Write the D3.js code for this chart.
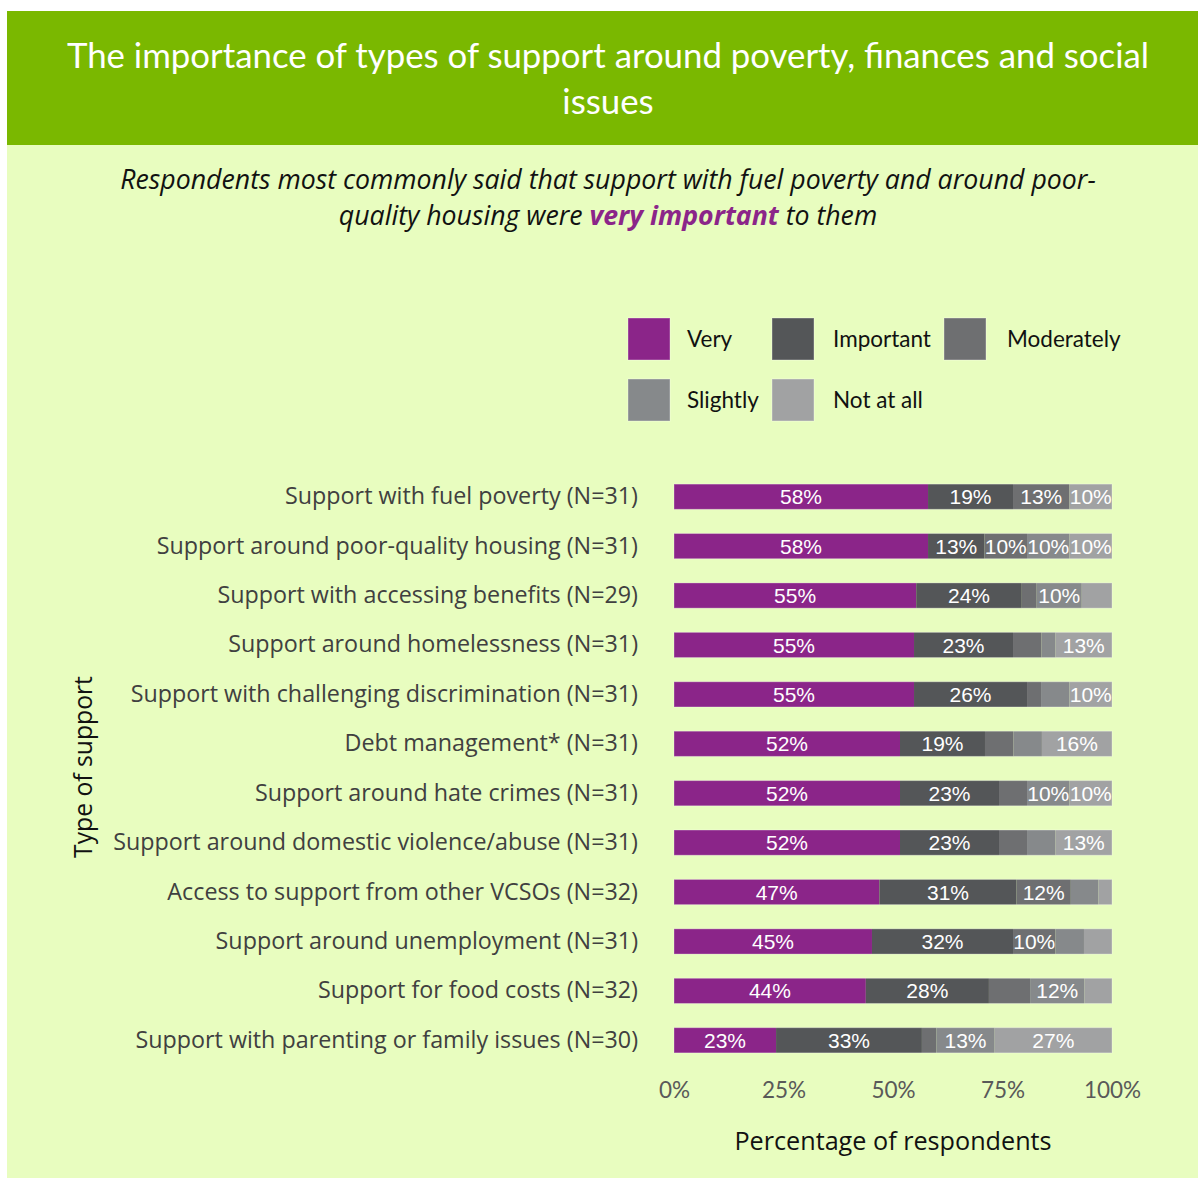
<!DOCTYPE html>
<html>
<head>
<meta charset="utf-8">
<script src="https://cdn.jsdelivr.net/npm/d3@7"></script>
<style>
  html, body { margin: 0; padding: 0; background: #ffffff; }
  svg { display: block; }
</style>
</head>
<body>
<svg id="chart" width="1198" height="1178"></svg>
<script>
// Types of support, top to bottom
const categories = [
  "Support with fuel poverty (N=31)",
  "Support around poor-quality housing (N=31)",
  "Support with accessing benefits (N=29)",
  "Support around homelessness (N=31)",
  "Support with challenging discrimination (N=31)",
  "Debt management* (N=31)",
  "Support around hate crimes (N=31)",
  "Support around domestic violence/abuse (N=31)",
  "Access to support from other VCSOs (N=32)",
  "Support around unemployment (N=31)",
  "Support for food costs (N=32)",
  "Support with parenting or family issues (N=30)"
];

// Share of respondents (%) for each importance level
const veryVals       = [58.0, 58.0, 55.3, 54.8, 54.8, 51.6, 51.6, 51.6, 46.9, 45.2, 43.8, 23.3];
const importantVals  = [19.4, 12.9, 24.1, 22.6, 25.8, 19.4, 22.6, 22.6, 31.3, 32.2, 28.1, 33.3];
const moderatelyVals = [12.9,  9.7,  3.4,  6.5,  3.2,  6.5,  6.4,  6.4, 12.4,  9.7,  9.4,  3.3];
const slightlyVals   = [ 0.0,  9.7, 10.3,  3.2,  6.5,  6.5,  9.7,  6.5,  6.3,  6.5, 12.4, 13.3];
const notAtAllVals   = [ 9.7,  9.7,  6.9, 12.9,  9.7, 16.0,  9.7, 12.9,  3.1,  6.4,  6.3, 26.8];

const levels = ["Very", "Important", "Moderately", "Slightly", "Not at all"];
const levelColors = ["#8b2589", "#545658", "#6e6f71", "#86898b", "#a1a2a3"];
const xTicks = [0, 25, 50, 75, 100];

const rows = categories.map((c, i) => ({
  category: c,
  "Very": veryVals[i],
  "Important": importantVals[i],
  "Moderately": moderatelyVals[i],
  "Slightly": slightlyVals[i],
  "Not at all": notAtAllVals[i]
}));

const svg = d3.select("#chart");
const latoFont = "Lato, 'Open Sans', sans-serif";
const openFont = "'Open Sans', Lato, sans-serif";

// Panel background and header band
svg.append("rect").attr("x", 7).attr("y", 11).attr("width", 1191).attr("height", 1167).attr("fill", "#e8fdbf");
svg.append("rect").attr("x", 7).attr("y", 11).attr("width", 1191).attr("height", 134).attr("fill", "#7ab800");

const title = svg.append("text")
  .attr("text-anchor", "middle")
  .attr("fill", "#ffffff")
  .style("font-family", latoFont)
  .style("font-size", "34.8px");
title.append("tspan").attr("x", 608).attr("y", 68).text("The importance of types of support around poverty, finances and social");
title.append("tspan").attr("x", 608).attr("y", 114).text("issues");

const sub = svg.append("text")
  .attr("text-anchor", "middle")
  .attr("fill", "#111111")
  .style("font-family", openFont)
  .style("font-style", "italic")
  .style("font-size", "26.7px");
sub.append("tspan").attr("x", 608).attr("y", 189).text("Respondents most commonly said that support with fuel poverty and around poor-");
const line2 = sub.append("tspan").attr("x", 608).attr("y", 225);
line2.append("tspan").text("quality housing were ");
line2.append("tspan").attr("fill", "#8b2589").style("font-weight", "bold").text("very important");
line2.append("tspan").text(" to them");

// Legend
const legendPos = [
  { x: 628, y: 318, tx: 687 },
  { x: 772, y: 318, tx: 833 },
  { x: 944, y: 318, tx: 1007 },
  { x: 628, y: 379, tx: 687 },
  { x: 772, y: 379, tx: 833 }
];
const legend = svg.append("g");
levels.forEach((lv, i) => {
  const p = legendPos[i];
  legend.append("rect")
    .attr("x", p.x).attr("y", p.y).attr("width", 42).attr("height", 42)
    .attr("fill", levelColors[i])
    .attr("stroke", "rgba(255,255,255,0.35)").attr("stroke-width", 1);
  legend.append("text")
    .attr("x", p.tx).attr("y", p.y + 21).attr("dy", "0.35em")
    .attr("fill", "#111111")
    .style("font-family", latoFont).style("font-size", "22.5px")
    .text(lv);
});

// Scales
const x = d3.scaleLinear().domain([0, 100]).range([674, 1112]);
const y = d3.scaleBand().domain(categories).range([472, 1065]).paddingInner(0.49).paddingOuter(0.245);

const stack = d3.stack().keys(levels);
const series = stack(rows);
const color = d3.scaleOrdinal().domain(levels).range(levelColors);

const barG = svg.append("g");
const groups = barG.selectAll("g.series").data(series).join("g")
  .attr("class", "series")
  .attr("fill", d => color(d.key));

groups.selectAll("rect").data(d => d.map(v => ({ v, key: d.key }))).join("rect")
  .attr("x", d => x(d.v[0]))
  .attr("y", d => y(d.v.data.category))
  .attr("width", d => Math.max(0, x(d.v[1]) - x(d.v[0])))
  .attr("height", y.bandwidth());

// Thin light outline round each whole bar
barG.selectAll("rect.outline").data(rows).join("rect")
  .attr("class", "outline")
  .attr("x", x(0)).attr("y", d => y(d.category))
  .attr("width", x(100) - x(0)).attr("height", y.bandwidth())
  .attr("fill", "none").attr("stroke", "rgba(255,255,255,0.3)").attr("stroke-width", 1);

// Value labels for segments of 10% or more
const labelG = svg.append("g");
series.forEach(s => {
  s.forEach(v => {
    const val = v[1] - v[0];
    if (val >= 9.5) {
      labelG.append("text")
        .attr("x", (x(v[0]) + x(v[1])) / 2)
        .attr("y", y(v.data.category) + y.bandwidth() / 2)
        .attr("dy", "0.36em")
        .attr("text-anchor", "middle")
        .attr("fill", "#ffffff")
        .style("font-family", "'Liberation Sans', Arial, sans-serif")
        .style("font-size", "21px")
        .text(Math.round(val) + "%");
    }
  });
});

// Axes
const yAxis = svg.append("g")
  .attr("transform", "translate(652,0)")
  .call(d3.axisLeft(y).tickSize(0).tickPadding(14));
yAxis.select(".domain").remove();
yAxis.selectAll("text")
  .attr("fill", "#404040")
  .style("font-family", openFont)
  .style("font-size", "23.3px");

const xAxis = svg.append("g")
  .attr("transform", "translate(0,1082)")
  .call(d3.axisBottom(x).tickValues(xTicks).tickFormat(d => d + "%").tickSize(0).tickPadding(0));
xAxis.select(".domain").remove();
xAxis.selectAll("text")
  .attr("fill", "#595959")
  .style("font-family", latoFont)
  .style("font-size", "22.5px");

svg.append("text")
  .attr("x", 893).attr("y", 1150)
  .attr("text-anchor", "middle")
  .attr("fill", "#111111")
  .style("font-family", openFont).style("font-size", "25.2px")
  .text("Percentage of respondents");

svg.append("text")
  .attr("transform", "translate(92,767) rotate(-90)")
  .attr("text-anchor", "middle")
  .attr("fill", "#111111")
  .style("font-family", openFont).style("font-size", "24.7px")
  .text("Type of support");
</script>
</body>
</html>
